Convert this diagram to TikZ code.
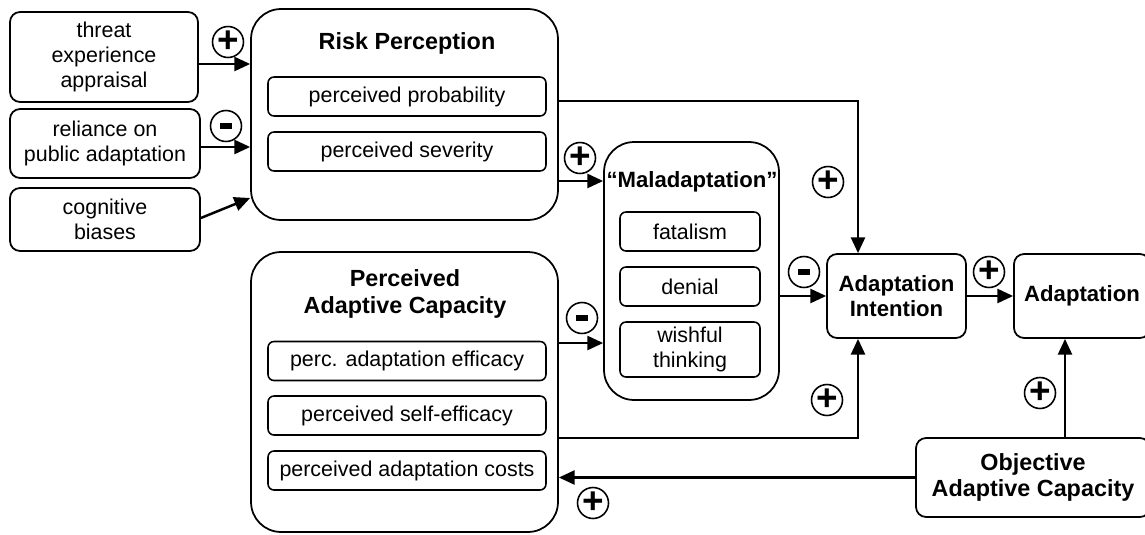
\documentclass[tikz,border=0pt]{standalone}
\usepackage{fontspec}
\setmainfont{Liberation Sans}
\usetikzlibrary{arrows.meta,calc}
\newcommand\minussign{\rule[-1.6pt]{6.4pt}{3pt}}
\begin{document}
\begin{tikzpicture}[x=0.02cm,y=-0.02cm,
  every node/.style={font=\fontsize{12.2}{14.2}\selectfont, align=center},
  bigbox/.style={draw, line width=1pt, rounded corners=0.6cm, inner sep=0pt},
  smallbox/.style={draw, line width=1pt, rounded corners=0.2cm, inner sep=0pt},
  innerbox/.style={draw, line width=0.9pt, rounded corners=0.12cm, inner sep=0pt, minimum height=0.78cm},
  title/.style={font=\fontsize{13.3}{15.3}\selectfont\bfseries},
  stitle/.style={font=\fontsize{12.6}{14.6}\selectfont\bfseries},
  arr/.style={line width=1.4pt, -{Triangle[length=9pt,width=8pt]}},
  sign/.style={draw, circle, line width=0.9pt, minimum size=0.62cm, inner sep=0pt, font=\fontsize{21}{21}\selectfont\bfseries}
]
\useasboundingbox (0,0) rectangle (1145,534);
% left inputs
\node[smallbox, minimum width=3.76cm, minimum height=1.8cm] (threat) at (104,57) {threat\\experience\\appraisal};
\node[smallbox, minimum width=3.8cm, minimum height=1.38cm] (reliance) at (105,143.5) {reliance on\\public adaptation};
\node[smallbox, minimum width=3.8cm, minimum height=1.26cm] (cog) at (105,219.5) {cognitive\\biases};
% risk perception
\node[bigbox, minimum width=6.14cm, minimum height=4.22cm] (RP) at (404.5,114.5) {};
\node[title] (RPt) at (407,43) {Risk Perception};
\node[innerbox, minimum width=5.56cm] (pprob) at (407,96.5) {perceived probability};
\node[innerbox, minimum width=5.56cm] (psev) at (407,151.5) {perceived severity};
% perceived adaptive capacity
\node[bigbox, minimum width=6.14cm, minimum height=5.6cm] (PAC) at (404.5,392) {};
\node[title] (PACt) at (405,294) {Perceived\\Adaptive Capacity};
\node[innerbox, minimum width=5.56cm] (peff) at (407,361) {perc. adaptation efficacy};
\node[innerbox, minimum width=5.56cm] (pself) at (407,415.5) {perceived self-efficacy};
\node[innerbox, minimum width=5.56cm] (pcost) at (407,470.5) {perceived adaptation costs};
% maladaptation
\node[bigbox, minimum width=3.5cm, minimum height=5.16cm] (Mal) at (691.5,271) {};
\node[stitle] (Malt) at (692,182) {``Maladaptation''};
\node[innerbox, minimum width=2.8cm] (fatal) at (690,231.5) {fatalism};
\node[innerbox, minimum width=2.8cm] (denial) at (690,286.5) {denial};
\node[innerbox, minimum width=2.8cm, minimum height=1.1cm] (wish) at (690,349.5) {wishful\\thinking};
% adaptation intention etc.
\node[smallbox, stitle, minimum width=2.78cm, minimum height=1.68cm] (AI) at (896.5,296) {Adaptation\\Intention};
\node[smallbox, stitle, minimum width=2.72cm, minimum height=1.68cm] (A) at (1082,296) {Adaptation};
\node[smallbox, title, minimum width=4.68cm, minimum height=1.58cm] (OAC) at (1033,477.5) {Objective\\Adaptive Capacity};
% arrows
\draw[arr] ([yshift=-0.14cm]threat.east) -- ([yshift=-0.14cm]threat.east -| RP.west);
\draw[arr] ([yshift=-0.07cm]reliance.east) -- ([yshift=-0.07cm]reliance.east -| RP.west);
\draw[arr] ([yshift=0.03cm]cog.east) -- ([yshift=-1.67cm]RP.west);
\draw[arr] ([yshift=0.27cm]RP.east) -| ([xshift=-0.77cm]AI.north);
\draw[arr] ([yshift=-1.33cm]RP.east) -- ([yshift=-1.33cm]RP.east -| Mal.west);
\draw[arr] ([yshift=0.98cm]PAC.east) -- ([yshift=0.98cm]PAC.east -| Mal.west);
\draw[arr] ([yshift=-0.92cm]PAC.east) -| ([xshift=-0.77cm]AI.south);
\draw[arr] (Mal.east |- AI.west) -- (AI.west);
\draw[arr] (AI.east) -- (A.west);
\draw[arr] ([xshift=0.64cm]OAC.north) -- ([xshift=0.64cm]OAC.north |- A.south);
\draw[arr] (OAC.west) -- (OAC.west -| PAC.east);
% signs
\node[sign] (s1) at (228,42) {+};
\node[sign] (s2) at (226,126) {\minussign};
\node[sign] (s3) at (580,158) {+};
\node[sign] (s4) at (582,318) {\minussign};
\node[sign] (s5) at (828,182) {+};
\node[sign] (s6) at (804,272) {\minussign};
\node[sign] (s7) at (827,400) {+};
\node[sign] (s8) at (989,272) {+};
\node[sign] (s9) at (1040,393) {+};
\node[sign] (s10) at (593,503) {+};
\end{tikzpicture}
\end{document}
